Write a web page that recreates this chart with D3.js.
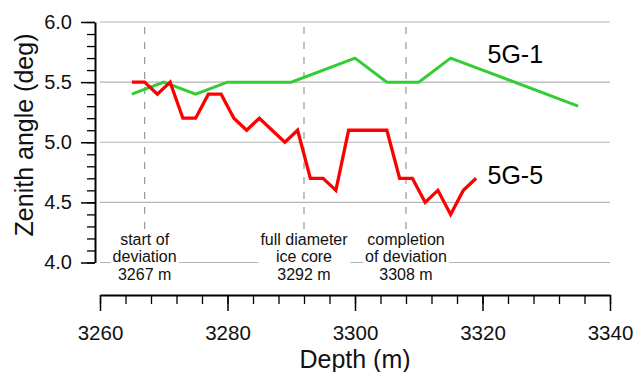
<!DOCTYPE html>
<html>
<head>
<meta charset="utf-8">
<script src="https://cdn.jsdelivr.net/npm/d3@7"></script>
<style>
  body { margin: 0; background: #fff; }
  text { font-family: "Liberation Sans", Arial, sans-serif; }
</style>
</head>
<body>
<div id="chart"></div>
<script>
// data
var depth5G1 = [3265, 3270, 3275, 3280, 3290, 3300, 3305, 3310, 3315, 3335];
var angle5G1 = [5.4, 5.5, 5.4, 5.5, 5.5, 5.7, 5.5, 5.5, 5.7, 5.3];

var depth5G5 = [3265, 3267, 3269, 3271, 3273, 3275, 3277, 3279, 3281, 3283, 3285,
  3289, 3291, 3293, 3295, 3297, 3299, 3305, 3307, 3309, 3311, 3313, 3315, 3317, 3319];
var angle5G5 = [5.5, 5.5, 5.4, 5.5, 5.2, 5.2, 5.4, 5.4, 5.2, 5.1, 5.2,
  5.0, 5.1, 4.7, 4.7, 4.6, 5.1, 5.1, 4.7, 4.7, 4.5, 4.6, 4.4, 4.6, 4.7];

var xTicks = [3260, 3280, 3300, 3320, 3340];
var xMinorTicks = d3.range(3260, 3341, 4);
var yTicks = [4.0, 4.5, 5.0, 5.5, 6.0];
var yMinorTicks = d3.range(40, 61, 1).map((d) => d / 10);

var markerDepth = [3267, 3292, 3308];
var markerText = [
  ["start of", "deviation", "3267 m"],
  ["full diameter", "ice core", "3292 m"],
  ["completion", "of deviation", "3308 m"],
];

var width = 634,
  height = 372;

var svg = d3
  .select("#chart")
  .append("svg")
  .attr("width", width)
  .attr("height", height);

var x = d3.scaleLinear().domain([3260, 3340]).range([100, 610]);
var y = d3.scaleLinear().domain([4, 6]).range([262.5, 22]);

// horizontal grid
svg
  .append("g")
  .selectAll("line")
  .data(yTicks)
  .enter()
  .append("line")
  .attr("x1", x(3260))
  .attr("x2", x(3340))
  .attr("y1", (d) => y(d))
  .attr("y2", (d) => y(d))
  .attr("stroke", "#b4b4b4")
  .attr("stroke-width", 1.2);

// dashed marker lines
svg
  .append("g")
  .selectAll("line")
  .data(markerDepth)
  .enter()
  .append("line")
  .attr("x1", (d) => x(d))
  .attr("x2", (d) => x(d))
  .attr("y1", y(6) + 5)
  .attr("y2", y(4))
  .attr("stroke", "#999")
  .attr("stroke-width", 1.2)
  .attr("stroke-dasharray", "7,8");

// annotation text with white box behind
markerText.forEach(function (lines, i) {
  var g = svg.append("g");
  var box = g.append("rect").attr("fill", "#fff");
  var t = g
    .append("text")
    .attr("text-anchor", "middle")
    .attr("font-size", "16px")
    .attr("fill", "#111");
  lines.forEach(function (s, j) {
    t.append("tspan")
      .attr("x", x(markerDepth[i]))
      .attr("y", 244.5 + j * 17.5)
      .text(s);
  });
  var bb = t.node().getBBox();
  box
    .attr("x", bb.x - 2)
    .attr("y", bb.y - 1)
    .attr("width", bb.width + 4)
    .attr("height", bb.height + 2);
});

// series lines
var line = d3
  .line()
  .x((d) => x(d[0]))
  .y((d) => y(d[1]));

svg
  .append("path")
  .datum(d3.zip(depth5G1, angle5G1))
  .attr("d", line)
  .attr("fill", "none")
  .attr("stroke", "#33cc33")
  .attr("stroke-width", 3);

svg
  .append("path")
  .datum(d3.zip(depth5G5, angle5G5))
  .attr("d", line)
  .attr("fill", "none")
  .attr("stroke", "#ff0000")
  .attr("stroke-width", 3.3);

// series labels
svg
  .append("text")
  .attr("x", 487.5)
  .attr("y", 62.5)
  .attr("font-size", "25px")
  .text("5G-1");
svg
  .append("text")
  .attr("x", 487.5)
  .attr("y", 184)
  .attr("font-size", "25px")
  .text("5G-5");

// Y axis (sits a little left of the plot)
var yAxisX = 95;
svg
  .append("g")
  .attr("transform", "translate(" + yAxisX + ",0)")
  .call(d3.axisLeft(y).tickValues(yMinorTicks).tickSize(8).tickSizeOuter(0).tickFormat(""))
  .call((g) => g.select(".domain").remove())
  .call((g) => g.selectAll("line").attr("stroke-width", 1.3));
svg
  .append("g")
  .attr("transform", "translate(" + yAxisX + ",0)")
  .call(
    d3.axisLeft(y).tickValues(yTicks).tickSize(14).tickSizeOuter(0).tickPadding(9).tickFormat(d3.format(".1f"))
  )
  .call((g) => g.select(".domain").attr("stroke-width", 2))
  .call((g) => g.selectAll("line").attr("stroke-width", 1.5))
  .call((g) => g.selectAll("text").attr("font-size", "20px").attr("font-family", "Liberation Sans, Arial, sans-serif").attr("fill", "#111"));

// X axis (separate, below)
var xAxisY = 295;
svg
  .append("g")
  .attr("transform", "translate(0," + xAxisY + ")")
  .call(d3.axisBottom(x).tickValues(xMinorTicks).tickSize(9).tickSizeOuter(0).tickFormat(""))
  .call((g) => g.select(".domain").remove())
  .call((g) => g.selectAll("line").attr("stroke-width", 1.3));
svg
  .append("g")
  .attr("transform", "translate(0," + xAxisY + ")")
  .call(d3.axisBottom(x).tickValues(xTicks).tickSize(16).tickSizeOuter(0).tickPadding(14).tickFormat(d3.format("d")))
  .call((g) => g.select(".domain").attr("stroke-width", 2))
  .call((g) => g.selectAll("line").attr("stroke-width", 1.5))
  .call((g) => g.selectAll("text").attr("font-size", "20.5px").attr("font-family", "Liberation Sans, Arial, sans-serif").attr("fill", "#111"));

// axis titles
svg
  .append("text")
  .attr("x", (x(3260) + x(3340)) / 2)
  .attr("y", 368)
  .attr("text-anchor", "middle")
  .attr("font-size", "25px")
  .attr("fill", "#111")
  .text("Depth (m)");

svg
  .append("text")
  .attr("transform", "translate(33,135) rotate(-90)")
  .attr("text-anchor", "middle")
  .attr("font-size", "25px")
  .attr("fill", "#111")
  .text("Zenith angle (deg)");
</script>
</body>
</html>
